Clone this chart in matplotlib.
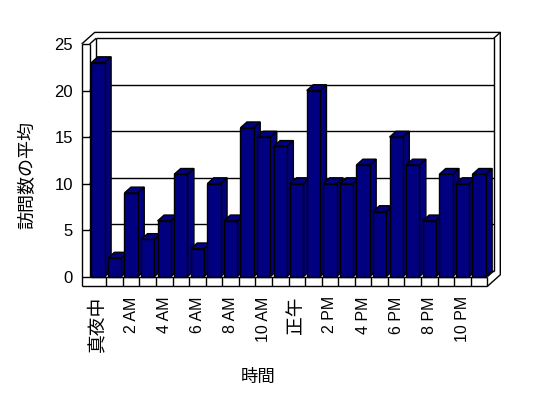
import matplotlib
matplotlib.use("Agg")
import matplotlib.pyplot as plt
from matplotlib.patches import Polygon
import numpy as np

FAM = ['Liberation Sans', 'Noto Sans CJK JP', 'DejaVu Sans']
plt.rcParams['font.family'] = FAM

hours = list(range(24))
values = [23, 2, 9, 4, 6, 11, 3, 10, 6, 16, 15, 14,
          10, 20, 10, 10, 12, 7, 15, 12, 6, 11, 10, 11]
tick_labels = ['真夜中', '2 AM', '4 AM', '6 AM', '8 AM', '10 AM',
               '正午', '2 PM', '4 PM', '6 PM', '8 PM', '10 PM']
y_ticks = [0, 5, 10, 15, 20, 25]
y_label = '訪問数の平均'
x_label = '時間'

W, H = 548, 398
fig = plt.figure(figsize=(W / 100, H / 100), dpi=100)
fig.patch.set_facecolor('white')

# front plane of the 3D box in pixels
x0p, x1p = 89.7, 487.3
y0p, y1p = 276.7, 44.0
ax = fig.add_axes([x0p / W, (H - y0p) / H, (x1p - x0p) / W, (y0p - y1p) / H])
n = len(values)
ax.set_xlim(-0.5, n - 0.5)
ax.set_ylim(0, 25)
for s in ax.spines.values():
    s.set_visible(False)
ax.set_facecolor('none')

pxx = (x1p - x0p) / n          # pixels per x unit
pxy = (y0p - y1p) / 25.0       # pixels per y unit
DX = 6.5 / pxx
DY = 5.8 / pxy
WALL = 8.0 / pxx
FLOOR = 9.7 / pxy
xl, xr = -0.5, n - 0.5
ytop = 25

lw = 1.0
kw = dict(color='black', lw=lw, clip_on=False, solid_capstyle='butt')

# back wall gridlines
for v in y_ticks[1:-1]:
    ax.plot([xl + DX, xr + DX], [v + DY, v + DY], zorder=1, **kw)
    ax.plot([xl, xl + DX], [v, v + DY], zorder=1, **kw)
# back wall inner edges
ax.plot([xl + DX, xr + DX, xr + DX], [ytop + DY, ytop + DY, DY], zorder=1, **kw)
ax.plot([xl + DX, xl + DX], [ytop + DY, DY], zorder=1, **kw)
ax.plot([xl, xl + DX], [ytop, ytop + DY], zorder=1, **kw)
ax.plot([xr, xr + DX], [0, DY], zorder=1, **kw)
ax.plot([xl + DX, xr + DX], [DY, DY], zorder=1, **kw)
# outer outline of walls
ax.plot([xl - WALL, xl - WALL + 2 * DX, xr + 2 * DX, xr + 2 * DX, xr],
        [ytop, ytop + 2 * DY, ytop + 2 * DY, -FLOOR + 2 * DY, -FLOOR],
        zorder=1, **kw)
ax.plot([xr + DX, xr + 2 * DX], [ytop + DY, ytop + 2 * DY], zorder=1, **kw)
# left wall front face
ax.plot([xl - WALL, xl - WALL], [ytop, -FLOOR], zorder=5, **kw)
ax.plot([xl, xl], [ytop, 0], zorder=5, **kw)
ax.plot([xl - WALL, xl], [ytop, ytop], zorder=5, **kw)
for v in y_ticks[:-1]:
    ax.plot([xl - WALL, xl], [v, v], zorder=5, **kw)

# bars (left to right so later fronts cover earlier sides)
bw = 0.8
for i, v in enumerate(values):
    z = 10 + i
    l, r = i - bw / 2, i + bw / 2
    front = Polygon([(l, 0), (r, 0), (r, v), (l, v)], closed=True,
                    facecolor='#000080', edgecolor='black', lw=lw, zorder=z + 0.3,
                    clip_on=False)
    top = Polygon([(l, v), (r, v), (r + DX, v + DY), (l + DX, v + DY)], closed=True,
                  facecolor='#000080', edgecolor='black', lw=lw, zorder=z + 0.2,
                  clip_on=False)
    side = Polygon([(r, 0), (r + DX, DY), (r + DX, v + DY), (r, v)], closed=True,
                   facecolor='#000080', edgecolor='black', lw=lw, zorder=z + 0.1,
                   clip_on=False)
    ax.add_patch(side)
    ax.add_patch(top)
    ax.add_patch(front)

# floor front face
ax.plot([xl, xr], [0, 0], zorder=50, **kw)
ax.plot([xl - WALL, xr], [-FLOOR, -FLOOR], zorder=50, **kw)
for k in range(1, n + 1):
    ax.plot([k - 0.5, k - 0.5], [-FLOOR, 0], zorder=50, **kw)

# ticks and labels
ax.set_yticks(y_ticks)
ax.set_yticklabels([str(t) for t in y_ticks], fontsize=12)
ax.tick_params(axis='y', length=0, pad=12)
ax.set_xticks(hours[::2])
ax.set_xticklabels(tick_labels, rotation=90, fontsize=11.5, va='top', ha='center')
ax.tick_params(axis='x', length=0, pad=14)
for t in ax.get_xticklabels():
    if t.get_text() in ('真夜中', '正午'):
        t.set_fontsize(13.5)

fig.text(27.5 / W, 1 - 175 / H, y_label, rotation=90, fontsize=13,
         ha='center', va='center')
fig.text(258 / W, 1 - 377 / H, x_label, fontsize=12.5, ha='center', va='center')

fig.savefig('out.png', dpi=100, facecolor='white')
